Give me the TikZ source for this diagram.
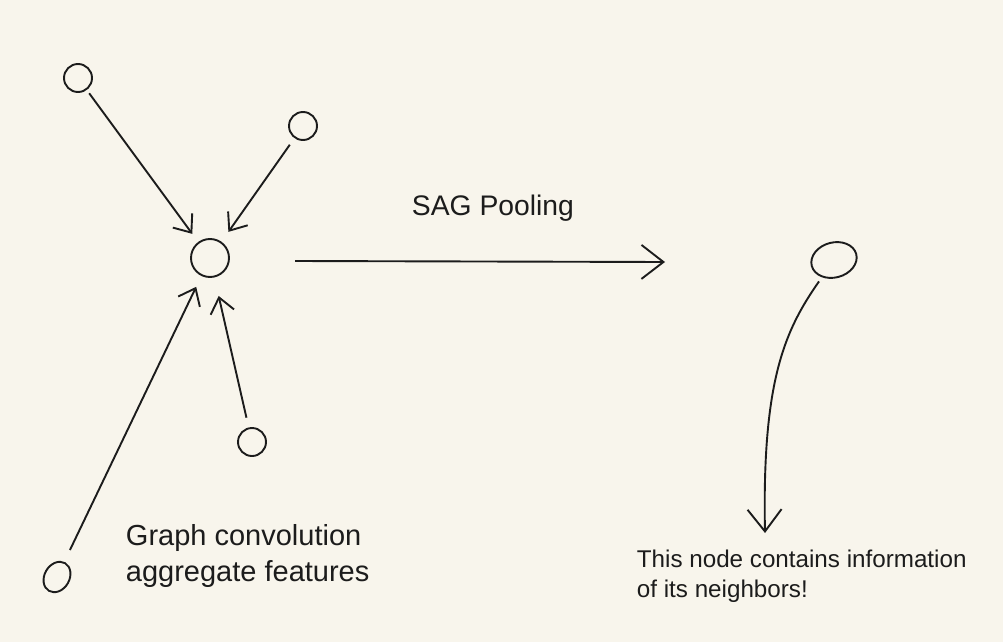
\documentclass[tikz,border=0pt]{standalone}
\usepackage{fontspec}
\setmainfont{Liberation Sans}
\usetikzlibrary{arrows.meta,shapes.geometric}
\definecolor{bg}{HTML}{F8F5EC}
\definecolor{ink}{HTML}{1C1C1C}
\begin{document}
\begin{tikzpicture}[x=1pt,y=-1pt,
  line width=1.9pt, draw=ink,
  gnode/.style={circle,draw=ink,line width=1.9pt,inner sep=0pt,minimum size=#1},
  gell/.style={ellipse,draw=ink,line width=1.9pt,inner sep=0pt},
  conn/.style={draw=ink,line width=1.9pt,-{Straight Barb[length=15pt,width=24pt,line width=1.9pt]}},
  bigconn/.style={draw=ink,line width=1.9pt,-{Straight Barb[length=22pt,width=34pt,line width=1.9pt]}},
  lbl/.style={text=ink,align=left,inner sep=0pt,anchor=north west}
]
\fill[bg] (0,0) rectangle (1003,642);
\useasboundingbox (0,0) rectangle (1003,642);

\node[gnode=28pt] (A) at (78,78) {};
\node[gnode=28pt] (B) at (303,126) {};
\node[gnode=38pt] (C) at (210,258) {};
\node[gnode=28pt] (D) at (252,442) {};
\node[gell,minimum width=25pt,minimum height=32pt,rotate=-30] (E) at (57,577) {};
\node[gell,minimum width=46pt,minimum height=35pt,rotate=15] (F) at (834,260) {};

\draw[conn,shorten <=4pt,shorten >=10pt] (A) -- (C);
\draw[conn,shorten <=8pt,shorten >=12pt] (B) -- (C);
\draw[conn,shorten <=13pt,shorten >=12pt] (E) -- (C);
\draw[conn,shorten <=10pt,shorten >=19pt] (D) -- (C);

\coordinate (s1) at (295,261);
\coordinate (s2) at (665,262);
\draw[bigconn] (s1) -- (s2);

\coordinate (t) at (765,533);
\draw[bigconn,shorten <=5pt] (F) .. controls (785,330) and (762,380) .. (t);

\node[lbl,font=\fontsize{28.3}{33}\selectfont] (sag) at (411,194) {SAG Pooling};
\node[lbl,font=\fontsize{29}{36}\selectfont] (gc) at (125,524) {Graph convolution\\aggregate features};
\node[lbl,font=\fontsize{24.2}{30}\selectfont] (info) at (636,549) {This node contains information\\of its neighbors!};
\end{tikzpicture}
\end{document}
